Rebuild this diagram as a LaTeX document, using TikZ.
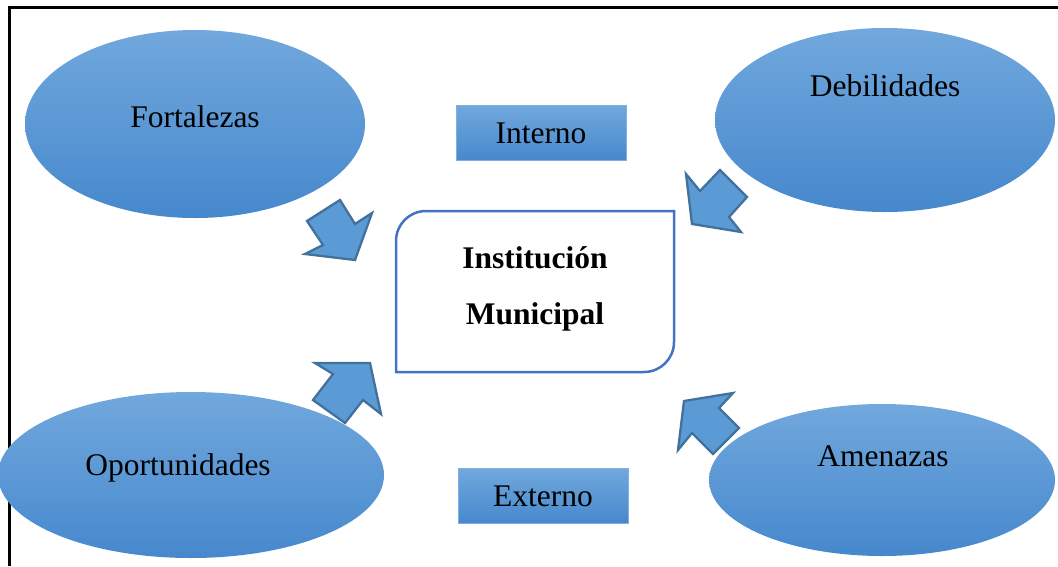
\documentclass[tikz,border=0pt]{standalone}
\usepackage{fontspec}
\setmainfont{Liberation Serif}
\usetikzlibrary{shapes.geometric}
\definecolor{elltop}{HTML}{71A8DD}
\definecolor{ellbot}{HTML}{4688CD}
\definecolor{arrfill}{HTML}{5B9BD5}
\definecolor{arrline}{HTML}{41719C}
\definecolor{boxline}{HTML}{4472C4}
\definecolor{rectline}{HTML}{7FB0E0}
\tikzset{
  ell/.style={ellipse, shade, top color=elltop, bottom color=ellbot, draw=none, inner sep=0pt},
  lbl/.style={font=\fontsize{31.5}{36}\selectfont, inner sep=0pt},
  tag/.style={rectangle, shade, top color=elltop, bottom color=ellbot, draw=rectline, line width=1pt, minimum width=170pt, minimum height=55pt, inner sep=0pt, font=\fontsize{31.5}{36}\selectfont},
  blockarrow/.style={fill=arrfill, draw=arrline, line width=2.3pt, line join=miter},
}
\begin{document}
\begin{tikzpicture}[x={(1pt,0)}, y={(0,-1pt)}]
\useasboundingbox (0,0) rectangle (1058,566);
% frame
\draw[line width=3pt] (1058,7) -- (9,7) -- (9,566);
% ellipses
\node[ell, minimum width=340pt, minimum height=188pt] (fort) at (195,124) {};
\node[lbl] (fortt) at (195,117) {Fortalezas};
\node[ell, minimum width=340pt, minimum height=184pt] (deb) at (885,120) {};
\node[lbl] (debt) at (885,86) {Debilidades};
\node[ell, minimum width=386pt, minimum height=166pt] (opo) at (191,475) {};
\node[lbl] (opot) at (178,468) {Oportunidades};
\node[ell, minimum width=346pt, minimum height=152pt] (ame) at (882,480) {};
\node[lbl] (amet) at (883,456) {Amenazas};
% tags
\node[tag] (int) at (541,133) {Interno};
\node[tag] (ext) at (543,496) {Externo};
% center box
\node[font=\fontsize{31.5}{56}\selectfont\bfseries, align=center, inner sep=0pt, minimum width=278pt, minimum height=161pt] (inst) at (535,288.5) {Institución\\Municipal};
\draw[boxline, line width=2.5pt] (396,372) -- (396,241) .. controls (396,224.4) and (409.4,211) .. (426,211) -- (674,211) -- (674,342) .. controls (674,358.6) and (660.6,372) .. (644,372) -- cycle;
% block arrows
\draw[blockarrow] (340,200) -- (307,221) -- (323,245) -- (305,254) -- (355,260) -- (372,213) -- (355,224) -- cycle;
\draw[blockarrow] (720,170) -- (747,197) -- (729,217) -- (741,232) -- (692,224) -- (686,174) -- (700,191) -- cycle;
\draw[blockarrow] (370,363) -- (315,363) -- (333,374) -- (313,400) -- (345,423) -- (363,400) -- (381,414) -- cycle;
\draw[blockarrow] (684,401) -- (733,393) -- (719,408) -- (739,428) -- (713,454) -- (692,433) -- (678,450) -- cycle;
\end{tikzpicture}
\end{document}
